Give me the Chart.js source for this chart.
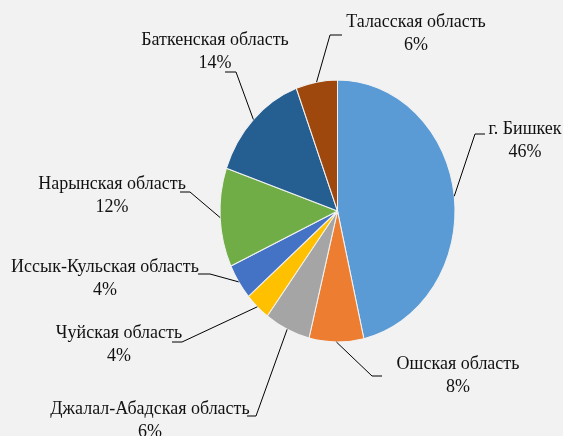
<!DOCTYPE html>
<html>
<head>
<meta charset="utf-8">
<script src="https://cdn.jsdelivr.net/npm/chart.js@4"></script>
<style>
    html, body { margin: 0; padding: 0; background: #f2f2f2; }
    #wrap { width: 563px; height: 436px; }
</style>
</head>
<body>
<div id="wrap"><canvas id="regionsPie" width="563" height="436"></canvas></div>
<script>
// Данные диаграммы
const regions = [
    'г. Бишкек',
    'Ошская область',
    'Джалал-Абадская область',
    'Чуйская область',
    'Иссык-Кульская область',
    'Нарынская область',
    'Баткенская область',
    'Таласская область'
];
const shares = [46.4, 7.5, 6.3, 3.5, 4.4, 12.2, 14.0, 5.7];
const sliceColors = ['#5b9bd5', '#ed7d31', '#a5a5a5', '#ffc000', '#4472c4', '#70ad47', '#255e91', '#9e480e'];

// Положение подписей: центр текста, излом выноски и конец горизонтального отрезка
const labelSpots = [
    { tx: 525, ty: 129, bx: 475, by: 134, hx: 485 },
    { tx: 458, ty: 364, bx: 372, by: 376, hx: 382 },
    { tx: 150, ty: 409, bx: 256, by: 416, hx: 247 },
    { tx: 119, ty: 333, bx: 182, by: 342, hx: 172 },
    { tx: 105, ty: 267, bx: 210, by: 274, hx: 198 },
    { tx: 112, ty: 184, bx: 190, by: 192, hx: 180 },
    { tx: 215, ty: 40,  bx: 236, by: 72,  hx: 225 },
    { tx: 416, ty: 22,  bx: 330, by: 35,  hx: 342 }
];

const stretchY = 1.115;
const textStretch = 1.1;
const total = shares.reduce((a, b) => a + b, 0);

// Растягиваем круг по вертикали, как на исходной картинке
const ellipsePlugin = {
    id: 'ellipse',
    beforeDatasetsDraw(chart) {
        const arc = chart.getDatasetMeta(0).data[0];
        const ctx = chart.ctx;
        ctx.save();
        ctx.translate(arc.x, arc.y);
        ctx.scale(1, stretchY);
        ctx.translate(-arc.x, -arc.y);
    },
    afterDatasetsDraw(chart) {
        chart.ctx.restore();
    }
};

function drawTallText(ctx, text, x, y) {
    ctx.save();
    ctx.translate(x, y);
    ctx.scale(1, textStretch);
    ctx.fillText(text, 0, 0);
    ctx.restore();
}

// Подписи с выносками
const calloutPlugin = {
    id: 'callouts',
    afterDraw(chart) {
        const ctx = chart.ctx;
        const meta = chart.getDatasetMeta(0);
        ctx.save();
        ctx.strokeStyle = '#000';
        ctx.lineWidth = 1;
        ctx.fillStyle = '#111';
        ctx.font = '18px "Liberation Serif", "Times New Roman", serif';
        ctx.textAlign = 'center';
        ctx.textBaseline = 'middle';
        meta.data.forEach((arc, i) => {
            const spot = labelSpots[i];
            const mid = (arc.startAngle + arc.endAngle) / 2;
            const ax = arc.x + Math.cos(mid) * arc.outerRadius;
            const ay = arc.y + Math.sin(mid) * arc.outerRadius * stretchY;
            ctx.beginPath();
            ctx.moveTo(ax, ay);
            ctx.lineTo(spot.bx, spot.by);
            ctx.lineTo(spot.hx, spot.by);
            ctx.stroke();
            const pct = Math.round(shares[i] / total * 100) + '%';
            drawTallText(ctx, regions[i], spot.tx, spot.ty);
            drawTallText(ctx, pct, spot.tx, spot.ty + 23);
        });
        ctx.restore();
    }
};

new Chart(document.getElementById('regionsPie'), {
    type: 'pie',
    data: {
        labels: regions,
        datasets: [{
            data: shares,
            backgroundColor: sliceColors,
            borderColor: '#f2f2f2',
            borderWidth: 1
        }]
    },
    options: {
        responsive: false,
        animation: false,
        layout: {
            padding: { left: 219, right: 107, top: 93, bottom: 107 }
        },
        plugins: {
            legend: { display: false },
            tooltip: { enabled: false }
        }
    },
    plugins: [ellipsePlugin, calloutPlugin]
});
</script>
</body>
</html>
